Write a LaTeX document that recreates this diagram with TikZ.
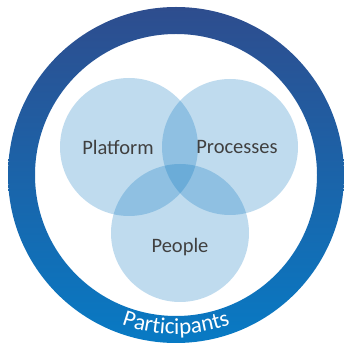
\documentclass[tikz,border=0pt]{standalone}
\usepackage{fontspec}
\setmainfont{Carlito}
\usetikzlibrary{decorations.text}
\definecolor{ringtop}{RGB}{46,77,142}
\definecolor{ringbot}{RGB}{8,122,196}
\definecolor{vennblue}{RGB}{0,112,188}
\definecolor{labelgray}{RGB}{64,64,64}
\tikzset{
  venn/.style={fill=vennblue, fill opacity=0.25, draw=none},
  vlabel/.style={text=labelgray, font=\fontsize{20.5}{24}\selectfont, inner sep=0pt}
}
\begin{document}
\begin{tikzpicture}[x=1pt,y=1pt]
\useasboundingbox (0,0) rectangle (343,345);
\coordinate (c) at (176,170);
% outer ring
\path[top color=ringtop, bottom color=ringbot, even odd rule]
  (c) circle[radius=168pt] (c) circle[radius=141pt];
% venn circles
\fill[venn] (129,198) circle[radius=69pt];
\fill[venn] (230,198) circle[radius=68pt];
\fill[venn] (180,112) circle[radius=69pt];
% labels
\node[vlabel] (platform) at (118,198) {Platform};
\node[vlabel] (processes) at (237,198) {Processes};
\node[vlabel] (people) at (180,98) {People};
% curved label
\path[decorate, decoration={text along path, text align=center,
  text color=white, text={|\fontsize{23}{26}\selectfont|Participants}}]
  ([shift={(c)}]220:159) arc[start angle=220, end angle=320, radius=159pt];
\end{tikzpicture}
\end{document}
